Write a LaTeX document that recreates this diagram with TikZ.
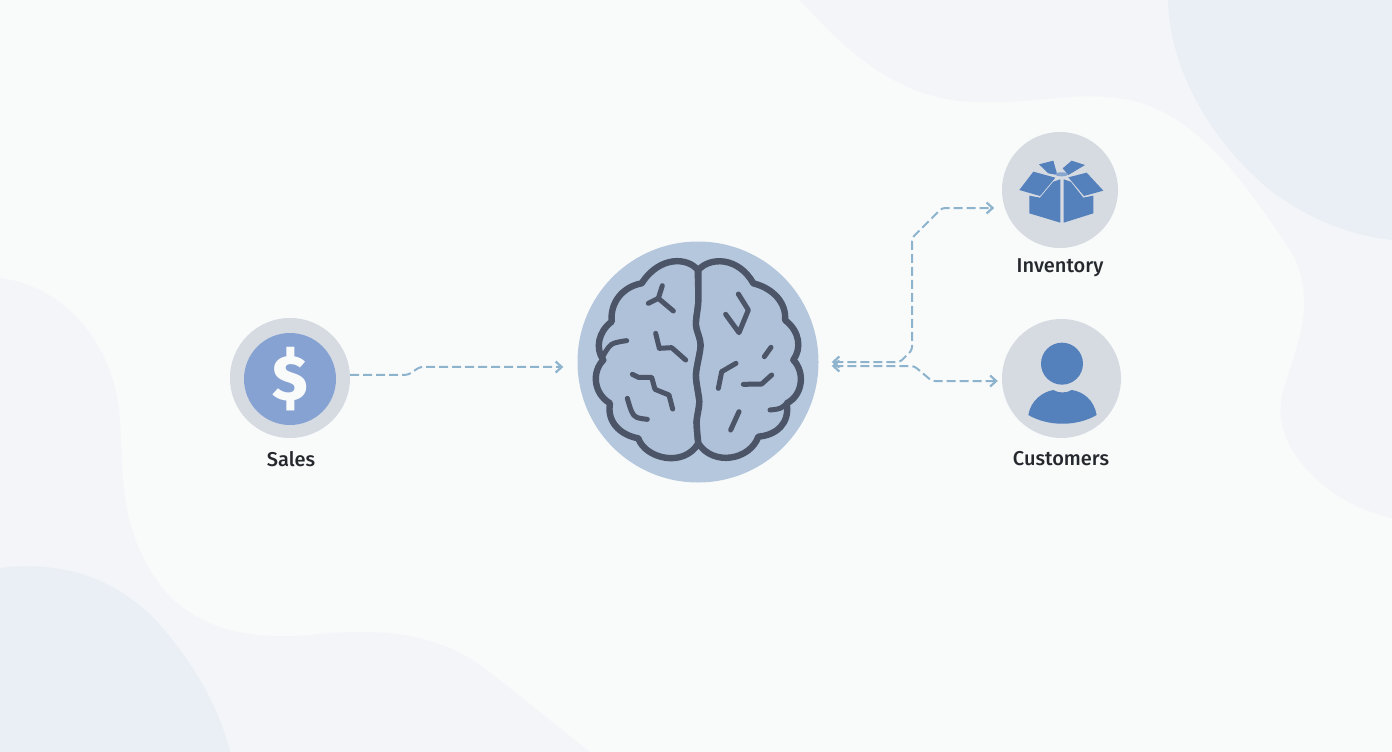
\documentclass[tikz,border=0pt]{standalone}
\usepackage{fontspec}
\setmainfont{Fira Sans Medium}
\usetikzlibrary{arrows.meta}
\definecolor{bgc}{HTML}{F9FBFB}
\definecolor{blobA}{HTML}{F3F5F8}
\definecolor{blobB}{HTML}{EAEFF6}
\definecolor{ring}{HTML}{D6DBE2}
\definecolor{dollarc}{HTML}{86A2D2}
\definecolor{brainbg}{HTML}{B5C7DD}
\definecolor{brainfill}{HTML}{AFC1D8}
\definecolor{brainline}{HTML}{4C5568}
\definecolor{iconblue}{HTML}{5480BB}
\definecolor{flowc}{HTML}{8DB3CD}
\definecolor{textc}{HTML}{25282D}
\tikzset{
  disc/.style={circle,draw=none,fill=ring,inner sep=0pt},
  lab/.style={font=\fontsize{20}{24}\selectfont,text=textc,inner sep=0pt},
  flow/.style={draw=flowc,line width=2pt,dash pattern=on 9pt off 4pt,rounded corners=3pt},
  tipR/.style={-{Straight Barb[length=6pt,width=11pt,line width=2.2pt]}},
  tipLR/.style={{Straight Barb[length=6pt,width=11pt,line width=2.2pt]}-{Straight Barb[length=6pt,width=11pt,line width=2.2pt]}},
  brainstroke/.style={draw=brainline,line width=6.4pt,line join=round,line cap=round},
  crease/.style={draw=brainline,line width=5pt,line join=round,line cap=round},
  boxface/.style={fill=iconblue,draw=none},
}
\begin{document}
\begin{tikzpicture}[x=1pt,y=-1pt]
\useasboundingbox (0,0) rectangle (1392,752);
\fill[bgc] (0,0) rectangle (1392,752);
% background blobs
\fill[blobA] (800,0) .. controls (850,55) and (900,100) .. (975,102)
  .. controls (1040,104) and (1080,90) .. (1130,100)
  .. controls (1200,115) and (1250,190) .. (1290,250)
  .. controls (1320,300) and (1295,350) .. (1282,395)
  .. controls (1270,450) and (1330,505) .. (1392,518) -- (1392,0) -- cycle;
\fill[blobB] (1168,0) .. controls (1170,70) and (1210,140) .. (1270,190)
  .. controls (1310,220) and (1350,235) .. (1392,240) -- (1392,0) -- cycle;
\fill[blobA] (0,278) .. controls (60,285) and (115,340) .. (120,420)
  .. controls (123,480) and (120,530) .. (160,585)
  .. controls (195,630) and (250,640) .. (310,635)
  .. controls (370,628) and (430,630) .. (480,665)
  .. controls (520,695) and (555,725) .. (590,752) -- (0,752) -- cycle;
\fill[blobB] (0,568) .. controls (50,562) and (110,570) .. (160,625)
  .. controls (195,665) and (220,710) .. (230,752) -- (0,752) -- cycle;

% nodes
\node[disc,minimum size=120pt] (sales) at (290,378) {};
\node[circle,fill=dollarc,inner sep=0pt,minimum size=92pt] (salesin) at (290,379) {};
\node[text=bgc,font=\fontsize{64}{64}\selectfont\bfseries,inner sep=0pt] (dollar) at (290,379) {\$};
\node[lab] (saleslab) at (291,459.5) {Sales};
\node[circle,fill=brainbg,inner sep=0pt,minimum size=241pt] (brain) at (698,362) {};
\node[disc,minimum size=116pt] (inv) at (1060,190) {};
\node[lab] (invlab) at (1060,267.5) {Inventory};
\node[disc,minimum size=119pt] (cust) at (1061.5,378.5) {};
\node[lab] (custlab) at (1061,459) {Customers};

% connectors
\draw[flow,tipR] (sales.3) -- ++(58,0) -- ++(12,-8) -- ([xshift=-14pt,yshift=-5pt]brain.west);
\draw[flow,tipLR] ([xshift=13pt,yshift=0pt]brain.east) -- (900,362) -- (912,350) -- (912,238) -- (942,208) -- ([xshift=-124pt,yshift=-18pt]inv.east);
\draw[flow,tipLR] ([xshift=13pt,yshift=-4pt]brain.east) -- (914,366) -- (932,381) -- ([xshift=-4pt,yshift=-2.5pt]cust.west);

% brain
\begin{scope}[shift={(570,235)},x=0.33333pt,y=-0.33333pt]
\path[fill=brainfill,brainstroke]
 (383,105) .. controls (355,68) and (270,60) .. (215,145)
 .. controls (160,155) and (120,200) .. (125,260)
 .. controls (85,290) and (75,340) .. (100,375)
 .. controls (65,410) and (70,475) .. (120,505)
 .. controls (110,560) and (150,600) .. (205,610)
 .. controls (225,670) and (340,700) .. (385,625)
 -- plot[smooth,tension=.5] coordinates {(385,625)(380,560)(388,500)(378,420)(392,330)(378,270)(385,200)(383,105)} -- cycle;
\path[fill=brainfill,brainstroke]
 (385,105) .. controls (420,65) and (505,65) .. (550,145)
 .. controls (610,160) and (650,205) .. (645,255)
 .. controls (690,290) and (695,340) .. (670,375)
 .. controls (705,410) and (700,480) .. (650,505)
 .. controls (660,565) and (620,600) .. (565,605)
 .. controls (540,675) and (430,695) .. (385,625)
 -- plot[smooth,tension=.5] coordinates {(385,625)(380,560)(388,500)(378,420)(392,330)(378,270)(385,200)(385,105)} -- cycle;
\draw[crease] (277,152) -- (265,190) -- (310,228);
\draw[crease] (235,205) -- (265,190);
\draw[crease] plot[smooth,tension=.6] coordinates {(100,362)(125,328)(170,317)};
\draw[crease] (257,295) -- (268,340) -- (305,338) -- (347,375);
\draw[crease] (187,418) -- (205,427) -- (245,427) -- (255,463) -- (297,480) -- (308,522);
\draw[crease] plot[smooth,tension=.6] coordinates {(172,490)(185,530)(200,547)(232,553)};
\draw[crease] (505,177) -- (535,225) -- (507,293) -- (467,238);
\draw[crease] (603,337) -- (583,365);
\draw[crease] (498,385) -- (455,410) -- (445,460);
\draw[crease] (520,448) -- (575,447) -- (605,420);
\draw[crease] plot[smooth,tension=.6] coordinates {(600,525)(630,520)(650,505)};
\draw[crease] (507,530) -- (482,585);
\end{scope}

% box and person icons
\begin{scope}[shift={(820,125)},x=0.33333pt,y=-0.33333pt]
\fill[boxface] (628,212) -- (660,218) -- (700,170) -- (721,163) -- (721,293) -- (628,265) -- cycle;
\fill[boxface] (731,163) -- (752,170) -- (790,218) -- (820,212) -- (820,265) -- (731,293) -- cycle;
\fill[boxface] (598,195) -- (640,140) -- (706,158) -- (660,213) -- cycle;
\fill[boxface] (745,157) -- (800,143) -- (850,197) -- (792,213) -- cycle;
\fill[boxface] (657,118) -- (700,107) -- (712,150) -- (685,145) -- cycle;
\fill[boxface] (728,130) -- (755,107) -- (795,120) -- (745,150) -- cycle;
\fill[iconblue!70!white] (725,148) ellipse (20 and 6);
\fill[iconblue] (726,716) circle[radius=63];
\fill[iconblue] (625,870) .. controls (632,825) and (670,800) .. (700,795)
  .. controls (715,805) and (740,805) .. (755,795)
  .. controls (790,800) and (822,825) .. (830,870)
  .. controls (770,905) and (685,905) .. (625,870) -- cycle;
\end{scope}
\end{tikzpicture}
\end{document}
